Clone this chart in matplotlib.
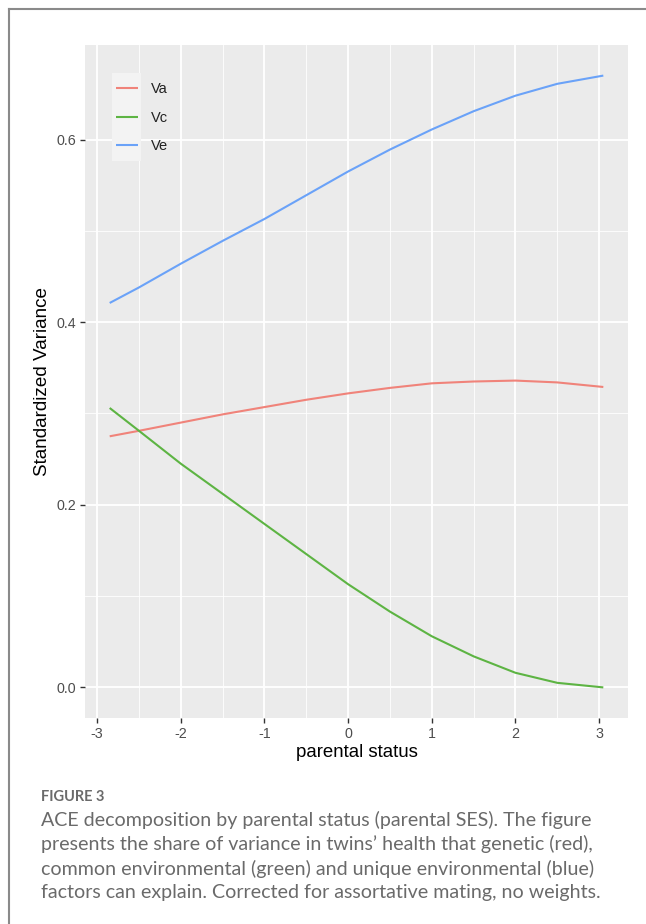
import numpy as np
import matplotlib.pyplot as plt
from matplotlib.patches import Rectangle
from matplotlib.lines import Line2D

plt.rcParams['font.family'] = ['Liberation Sans', 'DejaVu Sans']

# values
status = [-2.85, -2.5, -2.0, -1.5, -1.0, -0.5, 0.0, 0.5, 1.0, 1.5, 2.0, 2.5, 3.05]
va = [0.275, 0.281, 0.290, 0.299, 0.307, 0.315, 0.322, 0.328, 0.333, 0.335, 0.336, 0.334, 0.329]
vc = [0.306, 0.281, 0.245, 0.212, 0.179, 0.146, 0.113, 0.083, 0.056, 0.034, 0.016, 0.005, 0.000]
ve = [0.421, 0.438, 0.464, 0.489, 0.513, 0.539, 0.565, 0.589, 0.611, 0.631, 0.648, 0.661, 0.670]
series_names = ["Va", "Vc", "Ve"]
series_colors = ["#F0837A", "#5DB443", "#6AA2F8"]

x_ticks = [-3, -2, -1, 0, 1, 2, 3]
y_ticks = [0.0, 0.2, 0.4, 0.6]

fig = plt.figure(figsize=(6.46, 9.24), dpi=100)
ax = fig.add_axes([85/646, 1-718/924, (628-85)/646, (718-45)/924])
ax.set_facecolor("#EBEBEB")

for vals, name, col in zip([va, vc, ve], series_names, series_colors):
    ax.plot(status, vals, color=col, lw=1.5, label=name, solid_capstyle="butt")

ax.set_xlim(-3.145, 3.345)
ax.set_ylim(-0.0335, 0.7035)
ax.set_xticks(x_ticks)
ax.set_xticklabels([str(t) for t in x_ticks])
ax.set_yticks(y_ticks)
ax.set_yticklabels([f"{t:.1f}" for t in y_ticks])
ax.set_xticks(np.arange(-2.5, 3.0, 1.0), minor=True)
ax.set_yticks([0.1, 0.3, 0.5], minor=True)
ax.grid(which="major", color="white", lw=1.3)
ax.grid(which="minor", color="white", lw=0.6)
ax.set_axisbelow(True)
for s in ax.spines.values():
    s.set_visible(False)
ax.tick_params(which="major", length=3.5, width=1.0, color="#333333",
               labelcolor="#4D4D4D", labelsize=10.3, pad=3)
ax.tick_params(which="minor", length=0)

ax.set_xlabel("parental status", fontsize=13.4, color="black", labelpad=2)
ax.set_ylabel("Standardized Variance", fontsize=13.6, color="black", labelpad=4)

# legend keys sit on a light box inside the panel
ax.add_patch(Rectangle((27/543, 1-161/673+45/673), 29/543, 88/673,
                       transform=ax.transAxes, facecolor="#F3F3F3",
                       edgecolor="none", zorder=3))
leg = ax.legend(loc="upper left", bbox_to_anchor=(0.035, 0.962), frameon=False,
                fontsize=10.5, handlelength=1.5, labelspacing=1.0,
                handletextpad=0.9, borderpad=0.3)
for t in leg.get_texts():
    t.set_color("#222222")
leg.set_zorder(4)

# page frame
fig.add_artist(Line2D([9/646, 9/646], [0, 1-9/924], color="#8A8A8A", lw=1.5,
                      transform=fig.transFigure))
fig.add_artist(Line2D([9/646, 1], [1-9/924, 1-9/924], color="#8A8A8A", lw=1.5,
                      transform=fig.transFigure))

# caption
cap_font = ["Lato", "DejaVu Sans"]
fig.text(41/646, 1-797/924, "FIGURE 3", fontsize=10.5, color="#6A6A6A",
         family=cap_font, weight="bold", va="center")
caption = ["ACE decomposition by parental status (parental SES). The figure",
           "presents the share of variance in twins\u2019 health that genetic (red),",
           "common environmental (green) and unique environmental (blue)",
           "factors can explain. Corrected for assortative mating, no weights."]
for i, line in enumerate(caption):
    fig.text(41/646, 1-(820+24.3*i)/924, line, fontsize=14.1, color="#6A6A6A",
             family=cap_font, va="center")

fig.savefig("out.png", dpi=100, facecolor="white")
